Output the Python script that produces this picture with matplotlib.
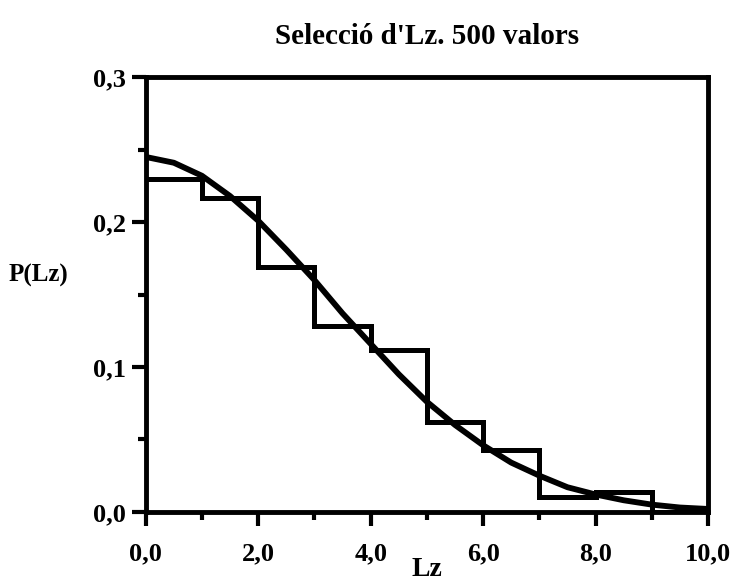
import matplotlib
matplotlib.use("Agg")
import matplotlib.pyplot as plt
from matplotlib.ticker import MultipleLocator, FuncFormatter

# Histogram (bin edges and heights)
bin_edges = [0, 1, 2, 3, 4, 5, 6, 7, 8, 9, 10]
bin_heights = [0.230, 0.217, 0.169, 0.128, 0.112, 0.062, 0.043, 0.010, 0.014, 0.0]

# Fitted curve
curve_x = [0.0, 0.5, 1.0, 1.5, 2.0, 2.5, 3.0, 3.5, 4.0, 4.5, 5.0,
           5.5, 6.0, 6.5, 7.0, 7.5, 8.0, 8.5, 9.0, 9.5, 10.0]
curve_y = [0.245, 0.241, 0.232, 0.218, 0.201, 0.181, 0.160, 0.137, 0.116, 0.095, 0.076,
           0.060, 0.046, 0.034, 0.025, 0.017, 0.012, 0.008, 0.005, 0.003, 0.002]

title = "Selecció d'Lz. 500 valors"
xlabel = "Lz"
ylabel = "P(Lz)"

plt.rcParams['font.family'] = ['Liberation Serif', 'DejaVu Serif']
plt.rcParams['font.weight'] = 'bold'

fig = plt.figure(figsize=(7.36, 5.81), dpi=100)
ax = fig.add_axes([0.198, 0.119, 0.764, 0.748])

ax.stairs(bin_heights, bin_edges, color='black', linewidth=3.6, baseline=None)
ax.plot(curve_x, curve_y, color='black', linewidth=4.2, solid_capstyle='round')

ax.set_xlim(0, 10)
ax.set_ylim(0, 0.3)

ax.xaxis.set_major_locator(MultipleLocator(2))
ax.xaxis.set_minor_locator(MultipleLocator(1))
ax.yaxis.set_major_locator(MultipleLocator(0.1))
ax.yaxis.set_minor_locator(MultipleLocator(0.05))

ax.xaxis.set_major_formatter(FuncFormatter(lambda v, p: f"{v:.1f}".replace('.', ',')))
ax.yaxis.set_major_formatter(FuncFormatter(lambda v, p: f"{v:.1f}".replace('.', ',')))

ax.tick_params(axis='both', which='major', direction='out', length=10, width=3,
               labelsize=19)
ax.tick_params(axis='x', which='major', pad=12)
ax.tick_params(axis='y', which='major', pad=4)
ax.tick_params(axis='both', which='minor', direction='out', length=6, width=3)
for lab in ax.get_xticklabels() + ax.get_yticklabels():
    lab.set_fontweight('bold')

for s in ax.spines.values():
    s.set_linewidth(3.5)

ax.set_title(title, fontsize=21, fontweight='bold', pad=24)
ax.set_xlabel(xlabel, fontsize=20, fontweight='bold', labelpad=-6)
ax.set_ylabel(ylabel, fontsize=18, fontweight='bold', rotation=0, va='center')
ax.yaxis.set_label_coords(-0.19, 0.545)

fig.savefig("out.png", dpi=100)
